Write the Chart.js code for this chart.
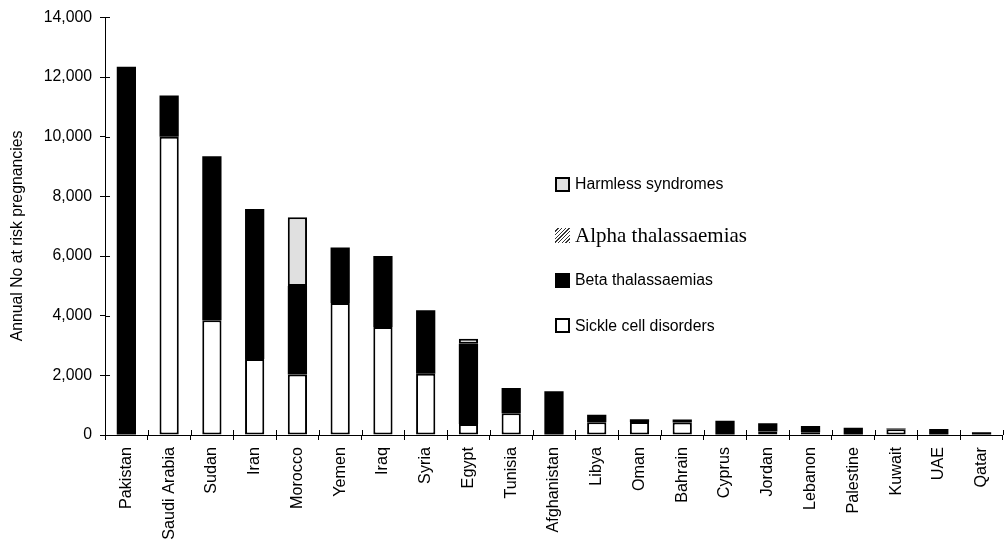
<!DOCTYPE html>
<html>
<head>
<meta charset="utf-8">
<script src="https://cdn.jsdelivr.net/npm/chart.js@4/dist/chart.umd.min.js"></script>
<style>
  html, body { margin: 0; padding: 0; background: #fff; overflow: hidden; }
  #wrap { position: relative; width: 1006px; height: 540px; overflow: hidden; }
  #legend { position: absolute; left: 555px; top: 0; font-family: "Liberation Sans", Arial, sans-serif; font-size: 15.8px; color: #000; }
  .item { position: absolute; left: 0; height: 24px; display: flex; align-items: center; white-space: nowrap; }
  .box { width: 15px; height: 15px; box-sizing: border-box; margin-right: 5px; flex: none; }
</style>
</head>
<body>
<div id="wrap">
  <canvas id="c" width="1008" height="540"></canvas>
  <div id="legend"></div>
</div>
<script>
// Annual number of at-risk pregnancies by country and disorder group
const countries = ["Pakistan", "Saudi Arabia", "Sudan", "Iran", "Morocco", "Yemen", "Iraq", "Syria",
  "Egypt", "Tunisia", "Afghanistan", "Libya", "Oman", "Bahrain", "Cyprus", "Jordan", "Lebanon",
  "Palestine", "Kuwait", "UAE", "Qatar"];
const sickleCell = [0, 10000, 3850, 2550, 2030, 4430, 3620, 2050, 370, 730, 0, 430, 440, 420, 0, 120, 90, 0, 190, 0, 0];
const betaThal   = [12350, 1380, 5500, 5030, 2970, 1860, 2380, 2130, 2690, 850, 1470, 250, 85, 100, 480, 270, 210, 240, 30, 200, 90];
const alphaThal  = [0, 0, 0, 0, 0, 0, 0, 0, 0, 0, 0, 0, 0, 0, 0, 0, 0, 0, 0, 0, 0];
const harmless   = [0, 0, 0, 0, 2300, 0, 0, 0, 170, 0, 0, 0, 0, 0, 0, 0, 0, 0, 0, 0, 0];
const yTickValues = [0, 2000, 4000, 6000, 8000, 10000, 12000, 14000];
const yTitle = "Annual No at risk pregnancies";

const SANS = '"Liberation Sans", Arial, sans-serif';
const SERIF = '"Liberation Serif", "Times New Roman", serif';
const FONT_SIZE = 16.2;

// diagonal hatch fill for the alpha thalassaemia series
function hatchPattern() {
  const p = document.createElement('canvas');
  p.width = 4; p.height = 4;
  const g = p.getContext('2d');
  g.fillStyle = '#fff'; g.fillRect(0, 0, 4, 4);
  g.strokeStyle = '#333'; g.lineWidth = 1;
  g.beginPath(); g.moveTo(0, 4); g.lineTo(4, 0); g.moveTo(-1, 1); g.lineTo(1, -1); g.moveTo(3, 5); g.lineTo(5, 3); g.stroke();
  return document.getElementById('c').getContext('2d').createPattern(p, 'repeat');
}

const datasets = [
  { label: 'Sickle cell disorders', data: sickleCell, backgroundColor: '#ffffff', borderColor: '#000', borderWidth: 2,
    legendBox: 'background:#fff;border:2px solid #000;' },
  { label: 'Beta thalassaemias', data: betaThal, backgroundColor: '#000000', borderColor: '#000', borderWidth: 0,
    legendBox: 'background:#000;' },
  { label: 'Alpha thalassaemias', data: alphaThal, backgroundColor: hatchPattern(), borderColor: '#000', borderWidth: 0,
    legendBox: 'background:repeating-linear-gradient(-45deg,#333 0 1px,#fff 1px 2.6px);', legendFont: SERIF, legendSize: 21 },
  { label: 'Harmless syndromes', data: harmless, backgroundColor: '#e0e0e0', borderColor: '#000', borderWidth: 2,
    legendBox: 'background:#e0e0e0;border:2px solid #000;' }
].map(d => Object.assign(d, { borderSkipped: false, barPercentage: 0.45, categoryPercentage: 1.0 }));

// tick marks that cross the axis lines, plus the vertical axis caption
const axisExtras = {
  id: 'axisExtras',
  afterDraw(chart) {
    const { ctx, chartArea, scales: { x, y } } = chart;
    ctx.save();
    ctx.strokeStyle = '#000';
    ctx.lineWidth = 1;
    ctx.beginPath();
    y.ticks.forEach(t => {
      const py = Math.round(y.getPixelForValue(t.value)) + 0.5;
      ctx.moveTo(chartArea.left, py);
      ctx.lineTo(chartArea.left + 5, py);
    });
    const n = countries.length;
    const w = (x.right - x.left) / n;
    for (let i = 1; i <= n; i++) {
      const px = Math.round(x.left + i * w) + 0.5;
      ctx.moveTo(px, chartArea.bottom);
      ctx.lineTo(px, chartArea.bottom - 5);
    }
    ctx.stroke();
    ctx.translate(18, 236);
    ctx.rotate(-Math.PI / 2);
    ctx.font = '15.8px ' + SANS;
    ctx.fillStyle = '#000';
    ctx.textAlign = 'center';
    ctx.textBaseline = 'middle';
    ctx.fillText(yTitle, 0, 0);
    ctx.restore();
  }
};

const chart = new Chart(document.getElementById('c'), {
  type: 'bar',
  data: { labels: countries, datasets },
  options: {
    responsive: false,
    animation: false,
    layout: { padding: { top: 16, right: 0, left: 0, bottom: 0 } },
    plugins: { legend: { display: false }, tooltip: { enabled: false } },
    scales: {
      x: {
        stacked: true,
        offset: true,
        grid: { offset: true, drawOnChartArea: false, drawTicks: true, tickLength: 5, color: '#000', lineWidth: 1 },
        border: { display: true, color: '#000', width: 1 },
        ticks: { autoSkip: false, minRotation: 90, maxRotation: 90, padding: 7, color: '#000',
                 font: { family: SANS, size: FONT_SIZE } },
        afterFit(s) { s.height = 105; }
      },
      y: {
        stacked: true,
        min: 0, max: 14000,
        grid: { drawOnChartArea: false, drawTicks: true, tickLength: 5, color: '#000', lineWidth: 1 },
        border: { display: true, color: '#000', width: 1 },
        afterBuildTicks(s) { s.ticks = yTickValues.map(v => ({ value: v })); },
        ticks: { padding: 8, color: '#000', font: { family: SANS, size: 15.8 },
                 callback: v => Number(v).toLocaleString('en-US') },
        afterFit(s) { s.width = 105; }
      }
    }
  },
  plugins: [axisExtras]
});

// legend, top entry first
const legendCenters = [184, 235, 280, 325.5];
const legendEl = document.getElementById('legend');
datasets.slice().reverse().forEach((d, i) => {
  const item = document.createElement('div');
  item.className = 'item';
  item.style.top = (legendCenters[i] - 12) + 'px';
  const box = document.createElement('span');
  box.className = 'box';
  box.style.cssText += d.legendBox;
  const txt = document.createElement('span');
  txt.textContent = d.label;
  if (d.legendFont) { txt.style.fontFamily = d.legendFont; txt.style.fontSize = d.legendSize + 'px'; }
  item.appendChild(box);
  item.appendChild(txt);
  legendEl.appendChild(item);
});
</script>
</body>
</html>
